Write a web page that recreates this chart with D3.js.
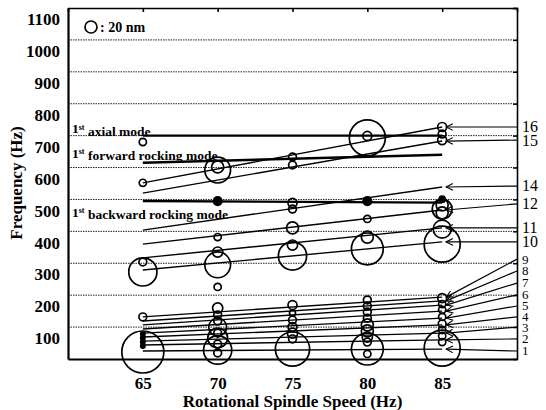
<!DOCTYPE html>
<html>
<head>
<meta charset="utf-8">
<script src="https://cdn.jsdelivr.net/npm/d3@7"></script>
<style>
  body { margin: 0; background: #fff; }
  svg { display: block; font-family: "Liberation Serif", "Times New Roman", serif; }
</style>
</head>
<body>
<div id="chart"></div>
<script>
// spindle speeds that were measured (Hz)
var speeds = [65, 70, 75, 80, 85];
var yTicks = [100, 200, 300, 400, 500, 600, 700, 800, 900, 1000, 1100];

// open circles: [spindle speed Hz, frequency Hz, amplitude nm]
var openPoints = [
  [65, 680, 12], [65, 552, 12], [65, 304, 13], [65, 273, 47], [65, 132, 13], [65, 22, 70],
  [70, 592, 43], [70, 602, 20], [70, 382, 12], [70, 335, 17], [70, 295, 43], [70, 226, 12],
  [70, 160, 17], [70, 138, 13], [70, 119, 13], [70, 100, 30], [70, 81, 13], [70, 66, 33],
  [70, 47, 13], [70, 28, 47], [70, 19, 13],
  [75, 633, 13], [75, 608, 13], [75, 489, 15], [75, 470, 13], [75, 411, 20], [75, 357, 17],
  [75, 323, 47], [75, 169, 15], [75, 144, 10], [75, 122, 13], [75, 100, 15], [75, 81, 17],
  [75, 63, 13], [75, 31, 57],
  [80, 693, 60], [80, 699, 15], [80, 439, 12], [80, 382, 20], [80, 345, 53], [80, 185, 13],
  [80, 166, 13], [80, 147, 13], [80, 128, 13], [80, 107, 20], [80, 88, 20], [80, 69, 17],
  [80, 53, 13], [80, 31, 53], [80, 16, 12],
  [85, 727, 15], [85, 705, 13], [85, 686, 15], [85, 483, 20], [85, 470, 33], [85, 458, 20],
  [85, 407, 30], [85, 360, 60], [85, 191, 15], [85, 172, 12], [85, 154, 12], [85, 132, 12],
  [85, 110, 13], [85, 91, 12], [85, 72, 12], [85, 53, 12], [85, 34, 60]
];

// filled circles: [spindle speed Hz, frequency Hz, amplitude nm]
var filledPoints = [
  [65, 78, 10], [65, 66, 10], [65, 53, 10], [65, 41, 10],
  [70, 495, 17], [80, 495, 17], [85, 501, 13]
];

// fitted modes: frequency at 65 Hz and 85 Hz, and where the number sits at the right
var modeIds    = [16, 15, 14, 12, 11, 10, 9, 8, 7, 6, 5, 4, 3, 2, 1];
var modeAt65   = [552, 520, 404, 360, 317, 279, 132, 119, 107, 94, 81, 69, 56, 44, 25];
var modeAt85   = [727, 683, 539, 467, 411, 367, 194, 182, 169, 150, 128, 107, 81, 60, 31];
var modeLabels = [727, 686, 542, 486, 411, 367, 313, 276, 238, 201, 166, 132, 100, 63, 25];

// first order modes of the spindle
var refNames = ["axial mode", "forward rocking mode", "backward rocking mode"];
var refAt65  = [700, 615, 495];
var refAt85  = [700, 640, 490];
var refText  = [722, 645, 461];

var legendAmp = 20;

var width = 546, height = 410;
var margin = {top: 8, right: 29, bottom: 51, left: 68};

var x = d3.scaleLinear().domain([60, 90]).range([margin.left, width - margin.right]);
var y = d3.scaleLinear().domain([0, 1100]).range([height - margin.bottom, margin.top]);
var r = d3.scaleLinear().domain([0, 20]).range([0, 6]);

var svg = d3.select("#chart").append("svg")
    .attr("width", width)
    .attr("height", height);

// arrow head for the number leaders
svg.append("defs").append("marker")
    .attr("id", "chev")
    .attr("viewBox", "0 0 10 10")
    .attr("refX", 1).attr("refY", 5)
    .attr("markerWidth", 7).attr("markerHeight", 7)
    .attr("orient", "auto")
  .append("path")
    .attr("d", "M9,1 L1,5 L9,9")
    .attr("fill", "none")
    .attr("stroke", "#000")
    .attr("stroke-width", 1.3);

// dotted grid
svg.append("g")
  .selectAll("line")
  .data(yTicks.slice(0, -1))
  .enter().append("line")
    .attr("x1", x(60)).attr("x2", x(90))
    .attr("y1", function(d) { return y(d); })
    .attr("y2", function(d) { return y(d); })
    .attr("stroke", "#222")
    .attr("stroke-width", 1)
    .attr("stroke-dasharray", "1.5,1");

// left axis, labels sit a bit under their grid line like in the print
var yAxis = svg.append("g")
    .attr("transform", "translate(" + x(60) + ",0)")
    .call(d3.axisLeft(y).tickValues(yTicks).tickSize(0).tickPadding(8).tickFormat(d3.format("d")));
yAxis.select(".domain").attr("stroke-width", 2.2);
yAxis.selectAll("text")
    .attr("dy", "0.98em")
    .style("font-size", "17px")
    .style("font-weight", "bold")
    .style("font-family", "Liberation Serif, serif")
    .attr("fill", "#000");

// bottom axis
var xAxis = svg.append("g")
    .attr("transform", "translate(0," + y(0) + ")")
    .call(d3.axisBottom(x).tickValues(speeds).tickSize(0).tickPadding(18));
xAxis.select(".domain").attr("stroke-width", 2.2);
xAxis.selectAll("text")
    .style("font-size", "17px")
    .style("font-weight", "bold")
    .style("font-family", "Liberation Serif, serif")
    .attr("fill", "#000");

// top and right frame with small ticks
var topAxis = svg.append("g")
    .attr("transform", "translate(0," + y(1100) + ")")
    .call(d3.axisTop(x).tickValues(speeds).tickSize(-4).tickFormat(""));
topAxis.select(".domain").attr("stroke-width", 1.6);
topAxis.selectAll(".tick line").attr("stroke-width", 1.6);

var rightAxis = svg.append("g")
    .attr("transform", "translate(" + x(90) + ",0)")
    .call(d3.axisRight(y).tickValues(yTicks).tickSize(-4).tickFormat(""));
rightAxis.select(".domain").attr("stroke-width", 1.6);
rightAxis.selectAll(".tick line").attr("stroke-width", 1.4);

// axis titles
svg.append("text")
    .attr("x", (x(60) + x(90)) / 2)
    .attr("y", 407)
    .attr("text-anchor", "middle")
    .style("font-size", "17px")
    .style("font-weight", "bold")
    .text("Rotational Spindle Speed (Hz)");

svg.append("text")
    .attr("transform", "translate(22,183) rotate(-90)")
    .attr("text-anchor", "middle")
    .style("font-size", "17px")
    .style("font-weight", "bold")
    .text("Frequency (Hz)");

// fitted mode lines
svg.append("g")
  .selectAll("line")
  .data(modeIds)
  .enter().append("line")
    .attr("x1", x(65))
    .attr("x2", x(85))
    .attr("y1", function(d, i) { return y(modeAt65[i]); })
    .attr("y2", function(d, i) { return y(modeAt85[i]); })
    .attr("stroke", "#000")
    .attr("stroke-width", 1.4);

// leaders from 85 Hz to the mode number
svg.append("g")
  .selectAll("line")
  .data(modeIds)
  .enter().append("line")
    .attr("x1", x(85) + 4)
    .attr("x2", x(90))
    .attr("y1", function(d, i) { return y(modeAt85[i]); })
    .attr("y2", function(d, i) { return y(modeLabels[i]); })
    .attr("stroke", "#000")
    .attr("stroke-width", 1.2)
    .attr("marker-start", "url(#chev)");

svg.append("g")
  .selectAll("text")
  .data(modeIds)
  .enter().append("text")
    .attr("x", x(90) + 5)
    .attr("y", function(d, i) { return y(modeLabels[i]); })
    .attr("dy", "0.34em")
    .style("font-size", function(d) { return d > 9 ? "16px" : "13px"; })
    .text(function(d) { return d; });

// first order modes
svg.append("g")
  .selectAll("line")
  .data(refNames)
  .enter().append("line")
    .attr("x1", x(65))
    .attr("x2", x(85))
    .attr("y1", function(d, i) { return y(refAt65[i]); })
    .attr("y2", function(d, i) { return y(refAt85[i]); })
    .attr("stroke", "#000")
    .attr("stroke-width", 2.4);

var refLabel = svg.append("g")
  .selectAll("text")
  .data(refNames)
  .enter().append("text")
    .attr("x", x(60) + 4)
    .attr("y", function(d, i) { return y(refText[i]); })
    .attr("dy", "0.35em")
    .style("font-size", "13.5px")
    .style("font-weight", "bold");
refLabel.append("tspan").text("1");
refLabel.append("tspan")
    .attr("dy", "-0.45em")
    .style("font-size", "8px")
    .text("st");
refLabel.append("tspan")
    .attr("dy", "0.45em")
    .text(function(d) { return " " + d; });

// amplitude circles
svg.append("g")
  .selectAll("circle")
  .data(openPoints)
  .enter().append("circle")
    .attr("cx", function(d) { return x(d[0]); })
    .attr("cy", function(d) { return y(d[1]); })
    .attr("r", function(d) { return r(d[2]); })
    .attr("fill", "none")
    .attr("stroke", "#000")
    .attr("stroke-width", 1.7);

svg.append("g")
  .selectAll("circle")
  .data(filledPoints)
  .enter().append("circle")
    .attr("cx", function(d) { return x(d[0]); })
    .attr("cy", function(d) { return y(d[1]); })
    .attr("r", function(d) { return r(d[2]); })
    .attr("fill", "#000");

// size legend
svg.append("circle")
    .attr("cx", 91).attr("cy", 27)
    .attr("r", r(legendAmp))
    .attr("fill", "none")
    .attr("stroke", "#000")
    .attr("stroke-width", 1.7);
svg.append("text")
    .attr("x", 100).attr("y", 32)
    .style("font-size", "14px")
    .style("font-weight", "bold")
    .text(": " + legendAmp + " nm");
</script>
</body>
</html>
